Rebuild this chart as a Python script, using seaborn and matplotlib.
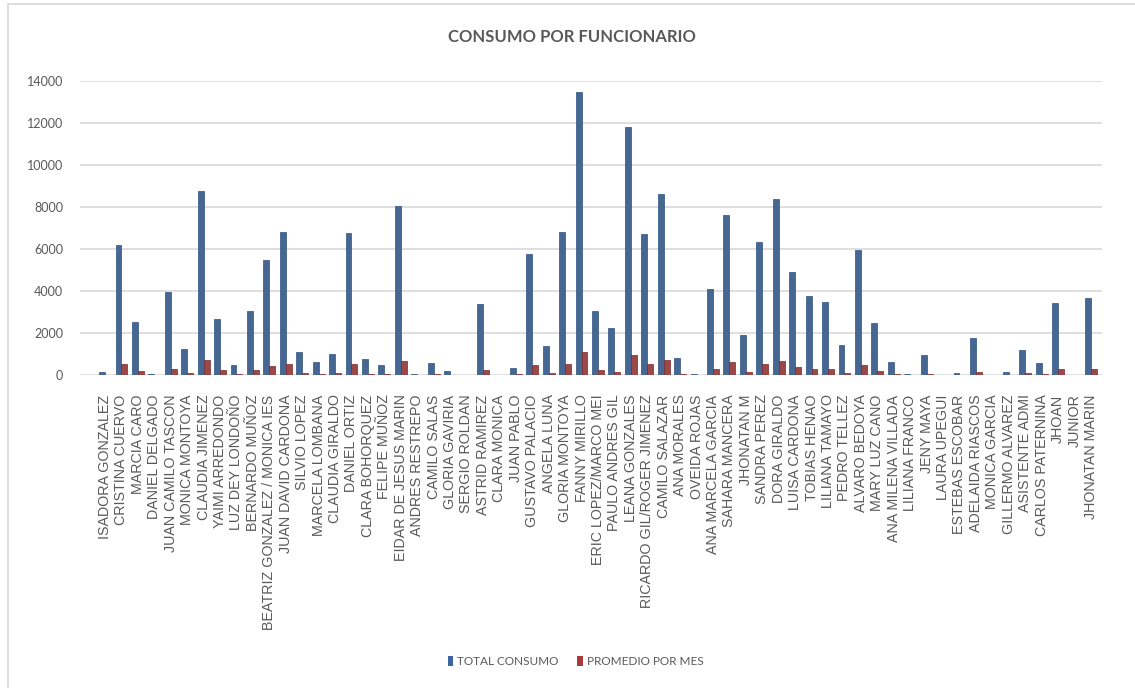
import pandas as pd
import matplotlib.pyplot as plt
import seaborn as sns
from matplotlib.patches import Rectangle, Patch

funcionarios = [
    "ISADORA GONZALEZ", "CRISTINA CUERVO", "MARCIA CARO", "DANIEL DELGADO",
    "JUAN CAMILO TASCON", "MONICA MONTOYA", "CLAUDIA JIMENEZ", "YAIMI ARREDONDO",
    "LUZ DEY LONDOÑO", "BERNARDO MUÑOZ", "BEATRIZ GONZALEZ / MONICA IES",
    "JUAN DAVID CARDONA", "SILVIO LOPEZ", "MARCELA LOMBANA", "CLAUDIA GIRALDO",
    "DANIEL ORTIZ", "CLARA BOHORQUEZ", "FELIPE MUÑOZ", "EIDAR DE JESUS MARIN",
    "ANDRES RESTREPO", "CAMILO SALAS", "GLORIA GAVIRIA", "SERGIO ROLDAN",
    "ASTRID RAMIREZ", "CLARA MONICA", "JUAN PABLO", "GUSTAVO PALACIO",
    "ANGELA LUNA", "GLORIA MONTOYA", "FANNY MIRILLO", "ERIC LOPEZ/MARCO MEI",
    "PAULO ANDRES GIL", "LEANA GONZALES", "RICARDO GIL/ROGER JIMENEZ",
    "CAMILO SALAZAR", "ANA MORALES", "OVEIDA ROJAS", "ANA MARCELA GARCIA",
    "SAHARA MANCERA", "JHONATAN M", "SANDRA PEREZ", "DORA GIRALDO",
    "LUISA CARDONA", "TOBIAS HENAO", "LILIANA TAMAYO", "PEDRO TELLEZ",
    "ALVARO BEDOYA", "MARY LUZ CANO", "ANA MILENA VILLADA", "LILIANA FRANCO",
    "JENY MAYA", "LAURA UPEGUI", "ESTEBAS ESCOBAR", "ADELAIDA RIASCOS",
    "MONICA GARCIA", "GILLERMO ALVAREZ", "ASISTENTE ADMI", "CARLOS PATERNINA",
    "JHOAN", "JUNIOR", "JHONATAN MARIN",
]

total_consumo = [
    150, 6200, 2520, 40, 3950, 1220, 8750, 2650, 480, 3040, 5480,
    6820, 1100, 620, 990, 6770, 760, 470, 8030, 30, 590, 180, 15,
    3400, 15, 330, 5770, 1360, 6800, 13500, 3060, 2230, 11820, 6720,
    8620, 820, 60, 4100, 7640, 1890, 6340, 8400, 4890, 3760, 3500,
    1440, 5970, 2460, 610, 30, 930, 15, 70, 1740, 15, 130, 1180,
    550, 3450, 15, 3650,
]

promedio_mes = [
    20, 500, 190, 10, 290, 90, 710, 250, 50, 220, 440,
    540, 70, 50, 70, 540, 60, 40, 650, 10, 60, 20, 5,
    260, 5, 50, 460, 100, 540, 1100, 230, 160, 960, 530,
    690, 60, 10, 300, 610, 140, 500, 680, 390, 280, 270,
    100, 470, 170, 50, 10, 60, 5, 20, 140, 5, 20, 80,
    50, 270, 5, 290,
]

series = ["TOTAL CONSUMO", "PROMEDIO POR MES"]
colores = ["#3a65a0", "#a93a3a"]
bordes = ["#2c5283", "#7c2727"]

df = pd.concat([
    pd.DataFrame({"funcionario": funcionarios, "serie": series[0], "valor": total_consumo}),
    pd.DataFrame({"funcionario": funcionarios, "serie": series[1], "valor": promedio_mes}),
])

sns.set_style("white")
narrow = ["Lato", "DejaVu Sans"]
plt.rcParams["font.family"] = ["Liberation Sans", "DejaVu Sans"]

fig = plt.figure(figsize=(11.35, 6.88), dpi=100)
ax = fig.add_axes([0.0705, 0.455, 0.9005, 0.427])

sns.barplot(data=df, x="funcionario", y="valor", hue="serie",
            palette=colores, width=0.72, ax=ax, legend=False,
            linewidth=0.5)
n = len(funcionarios)
for k, bar in enumerate(ax.patches):
    bar.set_edgecolor(bordes[0] if k < n else bordes[1])

ax.set_ylim(0, 14000)
ax.set_xlim(-1.52, 60.68)
ax.set_yticks(range(0, 14001, 2000))
ax.set_yticklabels([str(v) for v in range(0, 14001, 2000)],
                   family=narrow, fontsize=9, color="#595959")
ax.set_xticks(range(n))
ax.set_xticklabels(funcionarios, rotation=90, fontsize=10.3, color="#595959")
ax.tick_params(axis="x", length=0, pad=14)
ax.tick_params(axis="y", length=0, pad=12)
ax.set_xlabel("")
ax.set_ylabel("")
ax.yaxis.grid(True, color="#d9d9d9", linewidth=1.2)
ax.set_axisbelow(True)
sns.despine(ax=ax, left=True, bottom=True)

fig.text(0.504, 0.946, "CONSUMO POR FUNCIONARIO", ha="center", va="center",
         fontsize=12, fontweight="bold", color="#595959", family=narrow)

handles = [Patch(facecolor=c, edgecolor="none") for c in colores]
fig.legend(handles, series, loc="center", bbox_to_anchor=(0.507, 0.039),
           ncol=2, frameon=False, handlelength=0.5, handleheight=1.0,
           handletextpad=0.3, columnspacing=1.6,
           prop={"family": narrow, "size": 8.5}, labelcolor="#595959")

fig.patches.append(Rectangle((8 / 1135, -0.2), 1.5, 1.2 - 4 / 688,
                             transform=fig.transFigure, fill=False,
                             edgecolor="#d9d9d9", linewidth=1.2))

fig.savefig("out.png", dpi=100, facecolor="white")
